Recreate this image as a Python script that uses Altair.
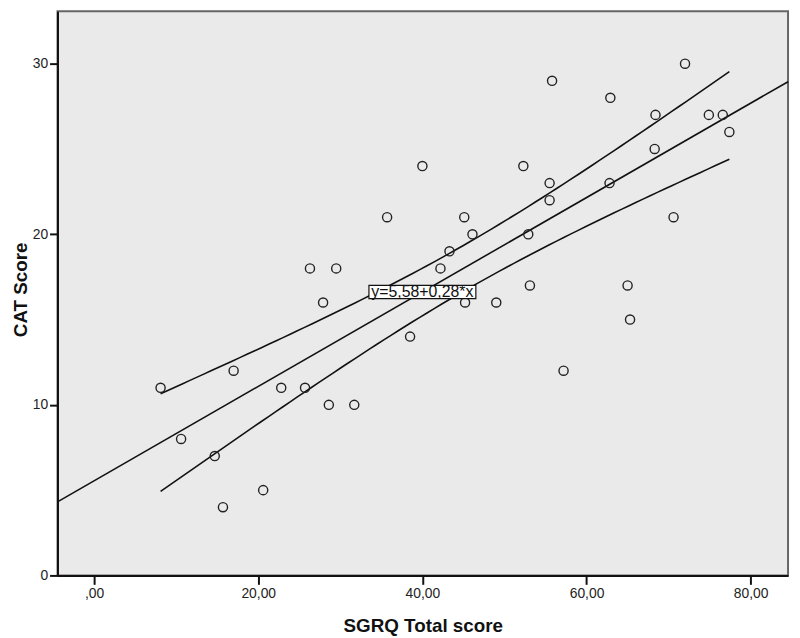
import numpy as np
import pandas as pd
import altair as alt

# ---- data ----
sgrq = [8.1, 10.6, 14.7, 15.7, 17.0, 20.6, 22.8, 25.7, 26.3, 27.9,
        28.6, 29.5, 31.7, 35.7, 38.5, 40.0, 42.2, 43.3, 45.1, 45.2,
        46.1, 49.0, 52.3, 52.9, 53.1, 55.8, 55.5, 55.5, 57.2, 62.8,
        62.9, 65.0, 65.3, 68.4, 68.3, 70.6, 72.0, 74.9, 76.6, 77.4]
cat = [11, 8, 7, 4, 12, 5, 11, 11, 18, 16,
       10, 18, 10, 21, 14, 24, 18, 19, 21, 16,
       20, 16, 24, 20, 17, 29, 23, 22, 12, 23,
       28, 17, 15, 27, 25, 21, 30, 27, 27, 26]

x_ticks = [0, 20, 40, 60, 80]
x_tick_labels = [",00", "20,00", "40,00", "60,00", "80,00"]
y_ticks = [0, 10, 20, 30]
equation_text = "y=5,58+0,28*x"
label_x = 40.0

X_DOMAIN = [-4.46, 84.55]
Y_DOMAIN = [0, 33.08]

# ---- linear fit and 95% mean confidence band (derived from data) ----
xa = np.array(sgrq, dtype=float)
ya = np.array(cat, dtype=float)
slope, intercept = np.polyfit(xa, ya, 1)
n = len(xa)
resid = ya - (intercept + slope * xa)
s = np.sqrt(np.sum(resid ** 2) / (n - 2))
xbar = xa.mean()
sxx = np.sum((xa - xbar) ** 2)
t_crit = 2.024  # t(0.975, df=38)

bx = np.linspace(xa.min(), xa.max(), 80)
fit_b = intercept + slope * bx
half = t_crit * s * np.sqrt(1.0 / n + (bx - xbar) ** 2 / sxx)

band_df = pd.concat([
    pd.DataFrame({"x": bx, "y": fit_b + half, "g": "upper"}),
    pd.DataFrame({"x": bx, "y": fit_b - half, "g": "lower"}),
])
fit_df = pd.DataFrame({"x": X_DOMAIN, "y": [intercept + slope * v for v in X_DOMAIN]})
pts_df = pd.DataFrame({"x": sgrq, "y": cat})
lab_df = pd.DataFrame({"x": [label_x], "y": [intercept + slope * label_x], "t": [equation_text]})

label_expr = " : ".join(
    [f"datum.value == {v} ? '{l}'" for v, l in zip(x_ticks, x_tick_labels)]
) + " : ''"

xs = alt.Scale(domain=X_DOMAIN, nice=False, zero=False)
ys = alt.Scale(domain=Y_DOMAIN, nice=False, zero=False)

x_axis = alt.Axis(values=x_ticks, labelExpr=label_expr, title="SGRQ Total score",
                  tickSize=9, labelPadding=2, titleY=57, titleBaseline="alphabetic")
y_axis = alt.Axis(values=y_ticks, title="CAT Score", tickSize=8, labelPadding=2,
                  titleAngle=270, titleX=-37, titleY=281, titleAlign="center",
                  titleBaseline="middle")

points = alt.Chart(pts_df).mark_point(
    shape="circle", size=85, filled=False, stroke="#222", strokeWidth=1.4, opacity=1
).encode(
    x=alt.X("x:Q", scale=xs, axis=x_axis),
    y=alt.Y("y:Q", scale=ys, axis=y_axis),
)

bands = alt.Chart(band_df).mark_line(color="#111", strokeWidth=1.6).encode(
    x=alt.X("x:Q", scale=xs), y=alt.Y("y:Q", scale=ys), detail="g:N"
)

fit = alt.Chart(fit_df).mark_line(color="#111", strokeWidth=1.6).encode(
    x=alt.X("x:Q", scale=xs), y=alt.Y("y:Q", scale=ys)
)

box = alt.Chart(lab_df).mark_point(
    shape="M-1,-0.125L1,-0.125L1,0.125L-1,0.125Z", size=11664,
    fill="white", stroke="#111", strokeWidth=1.2, fillOpacity=1, opacity=1
).encode(x=alt.X("x:Q", scale=xs), y=alt.Y("y:Q", scale=ys))

text = alt.Chart(lab_df).mark_text(
    font="Liberation Sans", fontSize=16, color="#111", align="center", baseline="middle"
).encode(x=alt.X("x:Q", scale=xs), y=alt.Y("y:Q", scale=ys), text="t:N")

chart = alt.layer(bands, fit, points, box, text).properties(
    width=738, height=570,
    autosize=alt.AutoSizeParams(type="none"),
    padding={"left": 50, "top": 0, "right": 4, "bottom": 58},
    background="white",
).configure_view(
    fill="#eaeaea", stroke="#666", strokeWidth=2
).configure_axis(
    domainColor="#111", domainWidth=2, tickColor="#111", tickWidth=2,
    labelFont="Liberation Sans", labelFontSize=14, labelColor="#222",
    titleFont="Liberation Sans", titleFontSize=19, titleFontWeight="bold",
    titleColor="#111", grid=False
)

chart.save("out.html", embed_options={"renderer": "svg", "actions": False})
